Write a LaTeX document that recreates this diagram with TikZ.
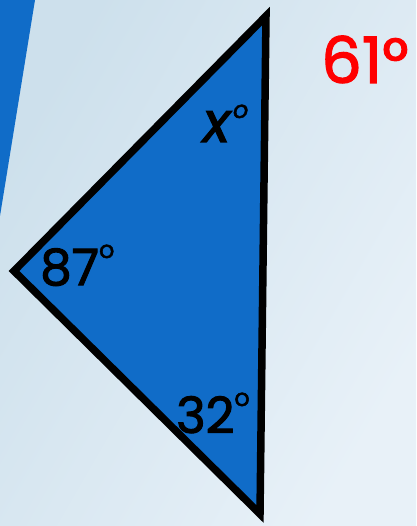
\documentclass[tikz,border=0pt]{standalone}
\usepackage{fontspec}
\setmainfont{Poppins}
\newfontfamily\lblfont{Poppins}[FakeBold=2]
\definecolor{bgA}{RGB}{205,224,236}
\definecolor{bgB}{RGB}{232,241,248}
\definecolor{triblue}{RGB}{16,108,200}
\newcommand{\degsup}[1]{{\fontsize{24}{24}\selectfont\raisebox{#1}{o}}}
\tikzset{
  lbl/.style={anchor=base west, inner sep=0pt, font=\fontsize{50}{50}\lblfont},
  tri/.style={draw=black, line width=7.5pt, fill=triblue, line join=miter}
}
\begin{document}
\begin{tikzpicture}[x=1pt,y=-1pt]
\useasboundingbox (0,0) rectangle (416,526);
\shade[left color=bgA, right color=bgB, shading angle=60] (0,0) rectangle (416,526);
\fill[triblue] (0,0) -- (35,0) -- (0,216) -- cycle;
\coordinate (T) at (266,16);
\coordinate (L) at (14,271);
\coordinate (B) at (260,514);
\draw[tri] (T) -- (L) -- (B) -- cycle;
\node[lbl] (a87) at (40,285) {87\degsup{27pt}};
\node[lbl] (a32) at (176,433) {32\degsup{27pt}};
\node[lbl, font=\fontsize{56}{56}\lblfont] (ax) at (203,142) {\itshape x\kern3pt\degsup{24pt}};
\node[lbl, text=red, font=\fontsize{64}{64}\lblfont] (a61) at (321,83) {61°};
\end{tikzpicture}
\end{document}
